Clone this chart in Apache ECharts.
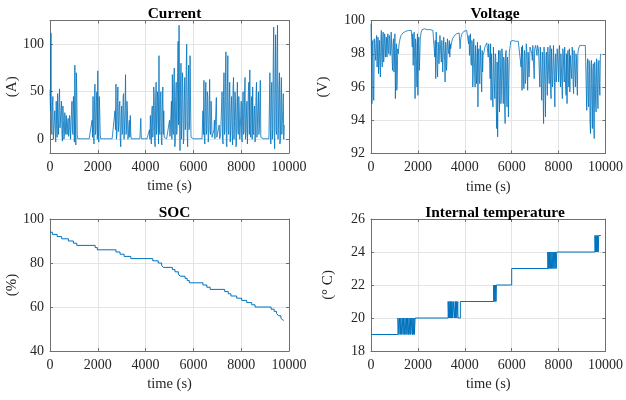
<!DOCTYPE html>
<html><head><meta charset="utf-8">
<script src="https://cdn.jsdelivr.net/npm/echarts@6/dist/echarts.min.js"></script>
<style>html,body{margin:0;padding:0;background:#fff}#c{width:626px;height:400px}</style>
</head><body><div id="c"></div>
<script>
// ---------------- data ----------------
const timeTicks = [0, 2000, 4000, 6000, 8000, 10000];
const SAMPLE_STEP_S = 20; // sampling step of the current / voltage records (s)

const currentA = [
 52,30,112,10,5,35,45,0,2,20,
 30,8,-3,40,15,2,48,20,5,38,
 53,12,10,30,40,5,-2,35,20,0,
 3,28,15,5,25,10,5,18,22,3,
 8,25,18,0,2,30,40,10,5,45,
 30,-3,78,20,-6,70,50,5,0.5,0.5,
 0.5,0.5,0.5,0.5,0.5,0.5,0.5,0.5,0.5,0.5,
 0.5,0.5,0.5,0.5,0.5,0.5,0.5,0.5,0.5,0.5,
 0.5,0.5,0.5,0.5,0.5,0.5,0.5,0.5,20,2,
 45,12,-5,35,58,5,10,40,50,0,
 72,10,-3,45,30,5,0.5,0.5,0.5,0.5,
 0.5,0.5,0.5,0.5,0.5,0.5,0.5,0.5,0.5,0.5,
 0.5,0.5,0.5,0.5,0.5,0.5,0.5,0.5,0.5,0.5,
 0.5,0.5,0.5,0.5,0.5,0.5,30,10,58,0,
 5,40,55,8,15,35,40,0,-8,25,
 35,5,8,45,48,0,2,30,68,5,
 10,40,30,0,3,15,20,2,25,5,
 0.5,0.5,0.5,0.5,0.5,0.5,0.5,0.5,0.5,0.5,
 0.5,0.5,0.5,0.5,0.5,0.5,0.5,0.5,0.5,0.5,
 22,0.5,0.5,0.5,0.5,0.5,0.5,0.5,0.5,0.5,
 0.5,0.5,0.5,0.5,0.5,0.5,0.5,0.5,10,0,
 25,5,-5,30,35,2,8,55,45,-3,
 -8,40,60,5,15,50,40,-5,88,10,
 5,45,50,0,-6,35,55,5,30,2,
 0.5,0.5,0.5,0.5,0.5,0.5,0.5,0.5,0.5,0.5,
 20,3,5,25,40,0,68,10,5,60,
 75,-8,-5,45,60,5,10,70,103,15,
 120,30,-12,55,80,0,20,70,55,-5,
 0,40,65,10,15,75,100,5,-8,50,
 78,10,20,88,40,2,0.5,0.5,0.5,0.5,
 0.5,0.5,0.5,0.5,0.5,0.5,0.5,0.5,0.5,0.5,
 0.5,0.5,0.5,0.5,0.5,0.5,0.5,0.5,0.5,0.5,
 30,5,62,0,-5,40,60,5,10,50,
 45,-3,3,30,63,8,5,40,25,2,
 0.5,0.5,0.5,10,20,0.5,0.5,30,44,2,
 2,0.5,0.5,0.5,15,0.5,0.5,5,20,35,
 50,0,-5,45,70,5,10,60,92,-5,
 -8,50,88,10,5,40,60,-3,10,35,
 45,5,-6,55,65,0,20,50,40,-8,
 -5,35,60,10,5,45,30,0,10,25,
 40,2,-3,35,50,5,8,45,65,0,
 5,30,40,-5,-5,50,60,5,73,10,
 2,40,45,0,55,8,5,30,35,-3,
 8,45,60,2,0,35,50,5,10,40,
 62,2,0.5,0.5,0.5,0.5,0.5,0.5,0.5,0.5,
 0.5,0.5,0.5,0.5,0.5,0.5,0.5,0.5,0.5,0.5,
 70,10,-5,50,60,0,10,80,118,5,
 -10,60,110,10,5,85,120,0,15,55,
 70,-5,0,45,65,5,5,30,48,0,
 15
];

const voltageV = [
 99.8,97.6,95.0,98.5,98.8,95.4,95.2,98.9,98.7,98.0,
 97.6,98.8,99.1,97.2,98.3,99.0,96.8,98.0,98.8,97.3,
 96.6,98.7,99.4,97.7,97.2,99.0,99.3,97.5,98.0,99.2,
 99.0,97.8,98.3,99.0,97.8,98.6,99.2,98.2,98.0,99.1,
 98.9,97.9,98.2,99.3,99.4,97.7,97.0,98.6,98.9,96.9,
 97.6,99.2,95.3,98.0,98.6,95.8,96.5,98.3,98.0,98.3,
 98.6,98.75,98.9,99.0,99.1,99.15,99.2,99.22,99.25,99.28,
 99.3,99.3,99.3,99.32,99.35,99.35,99.35,99.38,99.4,99.4,
 99.4,99.4,99.4,99.4,99.4,99.4,99.4,99.4,98.4,99.2,
 97.3,98.7,99.3,97.6,95.3,98.9,98.6,97.3,96.0,99.2,
 95.5,98.7,99.0,97.0,97.8,98.9,99.0,99.3,99.4,99.45,
 99.5,99.5,99.5,99.5,99.5,99.5,99.5,99.5,99.5,99.5,
 99.45,99.45,99.45,99.45,99.45,99.45,99.45,99.45,99.4,99.4,
 99.4,99.4,99.4,99.4,99.4,99.4,97.8,98.8,96.5,99.3,
 99.2,97.2,96.6,98.7,98.4,97.4,97.3,99.1,99.2,97.9,
 97.5,98.8,98.7,96.9,96.8,99.0,98.9,97.6,96.3,98.7,
 98.5,97.0,97.6,98.9,98.9,98.2,98.0,98.8,97.8,98.6,
 98.3,98.5,98.7,98.8,98.9,98.95,99.0,99.05,99.1,99.12,
 99.15,99.18,99.2,99.2,99.2,99.22,99.25,99.25,99.25,99.25,
 98.3,98.8,99.0,99.1,99.2,99.25,99.3,99.32,99.35,99.35,
 99.35,99.38,99.4,99.4,99.4,99.42,99.45,99.5,98.6,99.1,
 97.9,98.7,99.2,97.5,97.3,98.8,98.6,96.0,96.8,98.9,
 99.0,96.9,96.0,98.5,98.0,96.2,96.8,98.7,94.8,98.0,
 98.3,96.4,96.2,98.5,98.6,96.7,95.7,98.2,96.9,97.9,
 97.8,98.1,98.3,98.4,98.5,98.55,98.6,98.65,98.7,98.7,
 97.8,98.6,98.6,97.5,96.5,98.6,95.2,98.0,98.0,95.5,
 94.8,98.4,98.3,96.2,95.3,98.0,97.8,94.9,93.5,97.5,
 93.0,96.8,98.2,95.5,94.5,98.2,97.3,95.0,95.5,98.3,
 98.0,96.4,95.0,97.8,97.5,94.8,93.8,98.0,98.2,96.0,
 94.8,97.8,97.3,94.2,96.3,98.1,98.3,98.5,98.75,98.8,
 98.8,98.8,98.8,98.8,98.8,98.8,98.8,98.8,98.75,98.75,
 98.75,98.75,98.75,98.75,98.75,98.75,98.75,98.75,98.7,98.7,
 97.2,98.4,95.8,98.5,98.6,96.6,95.9,98.2,98.0,96.2,
 96.5,98.6,98.3,97.1,95.8,98.1,98.2,96.6,97.3,98.4,
 98.4,98.5,98.5,98.0,97.6,98.5,98.5,97.1,96.5,98.3,
 98.4,98.5,98.6,98.6,97.9,98.5,98.6,98.3,97.7,96.8,
 96.0,98.4,98.5,96.3,95.2,98.1,97.9,95.6,93.8,98.4,
 98.4,96.0,94.2,97.8,98.1,96.5,95.5,98.4,97.8,96.7,
 96.2,98.0,98.5,95.7,95.3,98.3,97.3,96.0,96.4,98.5,
 98.4,96.7,94.8,97.8,98.0,96.3,96.8,98.3,97.8,97.2,
 96.3,98.2,98.5,96.7,96.0,98.0,97.9,96.2,95.3,98.3,
 98.0,97.0,96.3,98.4,98.4,96.0,95.5,98.0,95.0,97.8,
 98.2,96.4,96.0,98.3,95.7,97.9,98.0,96.9,96.5,98.4,
 97.9,96.2,95.6,98.2,98.3,96.7,96.0,98.0,97.8,96.4,
 95.5,98.0,98.2,98.35,98.45,98.5,98.5,98.5,98.5,98.5,
 98.5,98.5,98.5,98.5,98.5,98.5,98.5,98.5,98.5,98.5,
 94.6,97.2,97.7,95.3,94.8,97.6,97.0,93.9,93.2,97.3,
 97.6,94.9,93.5,97.0,97.4,93.6,92.9,97.5,96.8,94.9,
 94.5,97.7,97.5,95.4,94.7,97.3,97.6,96.2,95.5,97.8,
 98.0
];

const socTime = [0,100,300,490,770,980,1120,1890,1980,2760,2930,3100,3380,4300,4530,4670,4740,5120,5230,5370,5440,5650,5740,5830,6400,6560,6700,7310,7460,7570,7810,8020,8230,8440,8580,9250,9380,9480,9560,9660,9740,9780];
const socPct  = [94,93,92,91,90,89,88,87,86,85,84,83,82,81,80,79,78,77,76,75,74,73,72,71,70,69,68,67,66,65,64,63,62,61,60,59,58,57,56,55,54,54];

const tempTime = [0,1150,1190,1210,1250,1270,1310,1330,1370,1390,1430,1450,1490,1510,1540,1560,1600,1620,1660,1680,1700,1740,1770,1790,1800,1840,1850,1880,
 3290,3310,3330,3350,3380,3400,3420,3440,3460,3480,3530,3550,3600,3610,3640,3660,3700,3710,3810,
 5230,5250,5270,5290,5310,5330,5350,
 6000,
 7540,7560,7580,7600,7620,7650,7670,7700,7720,7750,7770,7800,7820,7850,7870,7900,7920,
 9550,9570,9590,9610,9630,9650,9670,9690,9710,9800];
const tempC = [19,20,19,20,19,20,19,20,19,20,19,20,19,20,19,20,19,20,19,20,19,20,19,20,19,20,19,20,
 21,20,21,20,21,20,21,20,21,20,21,20,21,20,21,20,21,20,21,
 22,21,22,21,22,21,22,
 23,
 24,23,24,23,24,23,24,23,24,23,24,23,24,23,24,23,24,
 25,24,25,24,25,24,25,24,25,25];

const currentTicks = [0, 50, 100];
const voltageTicks = [92, 94, 96, 98, 100];
const socTicks = [40, 60, 80, 100];
const tempTicks = [18, 20, 22, 24, 26];

const titles = ['Current', 'Voltage', 'SOC', 'Internal temperature'];
const yNames = ['(A)', '(V)', '(%)', '(\u00B0 C)'];
const xName = 'time (s)';

// ---------------- build ----------------
const FONT = "'Liberation Serif','Times New Roman',serif";
const TXT = '#262626';
const BORDER = '#6f6f6f';
const GRIDC = '#e4e4e4';
const BLUE = '#0072BD';

const layout = [
  {left: 50,  top: 20.5, w: 239, h: 132.5, ymin: -14.5, ymax: 125, ticks: currentTicks, gap: 30},
  {left: 371, top: 20.5, w: 238, h: 133,   ymin: 92,  ymax: 100, ticks: voltageTicks, gap: 40},
  {left: 50,  top: 219,  w: 239, h: 132,   ymin: 40,  ymax: 100, ticks: socTicks, gap: 30.5},
  {left: 371, top: 219,  w: 238, h: 132,   ymin: 18,  ymax: 26,  ticks: tempTicks, gap: 35}
];

const seriesData = [
  currentA.map((v, i) => [i * SAMPLE_STEP_S, v]),
  voltageV.map((v, i) => [i * SAMPLE_STEP_S, v]),
  socTime.map((t, i) => [t, socPct[i]]),
  tempTime.map((t, i) => [t, tempC[i]])
];

const plain = (v) => String(v);
const grid = [], xAxis = [], yAxis = [], series = [], title = [];
const lineAx = {onZero: false, lineStyle: {color: BORDER, width: 1}};
const tickAx = (vals) => ({inside: true, length: 3, customValues: vals, lineStyle: {color: BORDER, width: 1}});

layout.forEach((p, k) => {
  grid.push({left: p.left, top: p.top, width: p.w, height: p.h, show: false});
  title.push({text: titles[k], left: p.left + p.w / 2, top: p.top - 18.5, textAlign: 'center',
    textStyle: {fontFamily: FONT, fontSize: 15.4, fontWeight: 'bold', color: '#000'}});
  xAxis.push({gridIndex: k, type: 'value', position: 'bottom', min: timeTicks[0], max: timeTicks[timeTicks.length - 1],
    name: xName, nameLocation: 'middle', nameGap: 26,
    nameTextStyle: {fontFamily: FONT, fontSize: 14.5, color: TXT},
    axisLine: lineAx, axisTick: tickAx(timeTicks),
    axisLabel: {customValues: timeTicks, formatter: plain, margin: 7, fontFamily: FONT, fontSize: 14, color: TXT},
    splitLine: {show: true, lineStyle: {color: GRIDC, width: 1}}});
  xAxis.push({gridIndex: k, type: 'value', position: 'top', min: timeTicks[0], max: timeTicks[timeTicks.length - 1],
    axisLine: lineAx, axisTick: tickAx(timeTicks), axisLabel: {show: false}, splitLine: {show: false}});
  yAxis.push({gridIndex: k, type: 'value', position: 'left', min: p.ymin, max: p.ymax,
    name: yNames[k], nameLocation: 'middle', nameGap: p.gap,
    nameTextStyle: {fontFamily: FONT, fontSize: 15, color: TXT},
    axisLine: lineAx, axisTick: tickAx(p.ticks),
    axisLabel: {customValues: p.ticks, formatter: plain, margin: 6, fontFamily: FONT, fontSize: 14, color: TXT},
    splitLine: {show: true, lineStyle: {color: GRIDC, width: 1}}});
  yAxis.push({gridIndex: k, type: 'value', position: 'right', min: p.ymin, max: p.ymax,
    axisLine: lineAx, axisTick: tickAx(p.ticks), axisLabel: {show: false}, splitLine: {show: false}});
  series.push({type: 'line', xAxisIndex: 2 * k, yAxisIndex: 2 * k, data: seriesData[k],
    showSymbol: false, symbol: 'none', sampling: null, clip: true,
    step: k >= 2 ? 'end' : false,
    lineStyle: {color: BLUE, width: k >= 2 ? 1 : 0.8}});
});

const chart = echarts.init(document.getElementById('c'), null, {renderer: 'canvas'});
chart.setOption({animation: false, backgroundColor: '#fff', title, grid, xAxis, yAxis, series});
</script>
</body></html>
